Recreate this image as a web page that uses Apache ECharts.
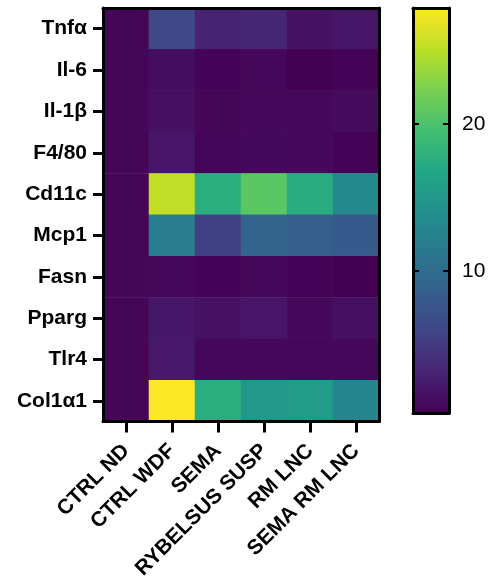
<!DOCTYPE html>
<html><head><meta charset="utf-8">
<script src="https://cdn.jsdelivr.net/npm/echarts@6/dist/echarts.min.js"></script>
<style>html,body{margin:0;padding:0;background:#fff}#c{width:492px;height:582px}</style>
</head><body><div id="c"></div>
<script>
const genes = ['Tnfα','Il-6','Il-1β','F4/80','Cd11c','Mcp1','Fasn','Pparg','Tlr4','Col1α1'];
const groups = ['CTRL ND','CTRL WDF','SEMA','RYBELSUS SUSP','RM LNC','SEMA RM LNC'];
// values per group, in gene order
const ctrlND    = [0.7, 0.7, 0.7, 0.7, 0.7, 0.7, 0.7, 0.7, 0.7, 0.7];
const ctrlWDF   = [6.3, 1.3, 1.5, 1.9, 25.3, 11.9, 0.8, 2.0, 2.1, 27.9];
const sema      = [3.0, 0.5, 0.7, 0.6, 17.6, 5.5, 0.5, 1.6, 0.8, 17.6];
const rybelsus  = [3.3, 0.8, 0.9, 1.0, 20.8, 9.2, 0.8, 1.9, 0.9, 15.0];
const rmLnc     = [1.7, 0.35, 0.8, 0.9, 17.4, 8.5, 0.5, 0.9, 0.8, 15.4];
const semaRmLnc = [2.0, 0.5, 1.1, 0.5, 13.2, 8.1, 0.35, 1.5, 0.8, 12.9];
const scaleMin = 0.34, scaleMax = 27.9;
const scaleTicks = [10, 20];

const cols = [ctrlND, ctrlWDF, sema, rybelsus, rmLnc, semaRmLnc];
const data = [];
cols.forEach((arr, gi) => arr.forEach((v, ri) => data.push([gi, ri, v])));

const viridis = ['#440154','#482475','#414487','#355f8d','#2a788e','#21918c','#22a884','#44bf70','#7ad151','#bddf26','#fde725'];
const FONT = '"Liberation Sans", Arial, sans-serif';
const lineStyle = {color:'#000', width:3};

const chart = echarts.init(document.getElementById('c'), null, {renderer:'canvas'});
chart.setOption({
  animation:false,
  backgroundColor:'#fff',
  grid:[
    {left:103, top:8, width:276, height:414, containLabel:false},
    {left:413, top:8, width:36, height:405, containLabel:false}
  ],
  xAxis:[
    {type:'category', data:groups, gridIndex:0, position:'bottom', z:10,
     axisLine:{show:true, lineStyle}, axisTick:{show:true, alignWithLabel:true, length:11, lineStyle},
     axisLabel:{rotate:45, margin:26, fontFamily:FONT, fontWeight:'bold', fontSize:21, color:'#000', interval:0},
     splitLine:{show:false}},
    {type:'category', data:groups, gridIndex:0, position:'top', z:10,
     axisLine:{show:true, lineStyle}, axisTick:{show:false}, axisLabel:{show:false}},
    {type:'value', gridIndex:1, position:'bottom', z:10, min:0, max:1,
     axisLine:{show:true, lineStyle}, axisTick:{show:false}, axisLabel:{show:false}, splitLine:{show:false}},
    {type:'value', gridIndex:1, position:'top', z:10, min:0, max:1,
     axisLine:{show:true, lineStyle}, axisTick:{show:false}, axisLabel:{show:false}, splitLine:{show:false}}
  ],
  yAxis:[
    {type:'category', data:genes, inverse:true, gridIndex:0, position:'left', z:10,
     axisLine:{show:true, lineStyle}, axisTick:{show:true, alignWithLabel:true, length:10, lineStyle},
     axisLabel:{margin:16, fontFamily:FONT, fontWeight:'bold', fontSize:21, color:'#000', interval:0},
     splitLine:{show:false}},
    {type:'category', data:genes, inverse:true, gridIndex:0, position:'right', z:10,
     axisLine:{show:true, lineStyle}, axisTick:{show:false}, axisLabel:{show:false}},
    {type:'value', gridIndex:1, position:'left', z:10, min:scaleMin, max:scaleMax,
     axisLine:{show:true, onZero:false, lineStyle}, axisTick:{show:true, inside:true, length:6, lineStyle:{color:'#000', width:2}, customValues:scaleTicks},
     axisLabel:{show:false}, splitLine:{show:false}},
    {type:'value', gridIndex:1, position:'right', z:10, min:scaleMin, max:scaleMax,
     axisLine:{show:true, onZero:false, lineStyle}, axisTick:{show:true, inside:true, length:6, lineStyle:{color:'#000', width:2}, customValues:scaleTicks},
     axisLabel:{show:true, margin:13, fontFamily:FONT, fontSize:21, color:'#000', customValues:scaleTicks},
     splitLine:{show:false}}
  ],
  visualMap:{
    type:'continuous', min:scaleMin, max:scaleMax, calculable:false, realtime:false,
    orient:'vertical', left:413, top:8, itemWidth:36, itemHeight:405, padding:0,
    text:null, showLabel:false, seriesIndex:0,
    inRange:{color:viridis}
  },
  series:[{
    type:'heatmap', xAxisIndex:0, yAxisIndex:0, data:data,
    itemStyle:{borderColor:'rgba(255,255,255,0.05)', borderWidth:0.5},
    emphasis:{disabled:true}
  }]
});
</script></body></html>
